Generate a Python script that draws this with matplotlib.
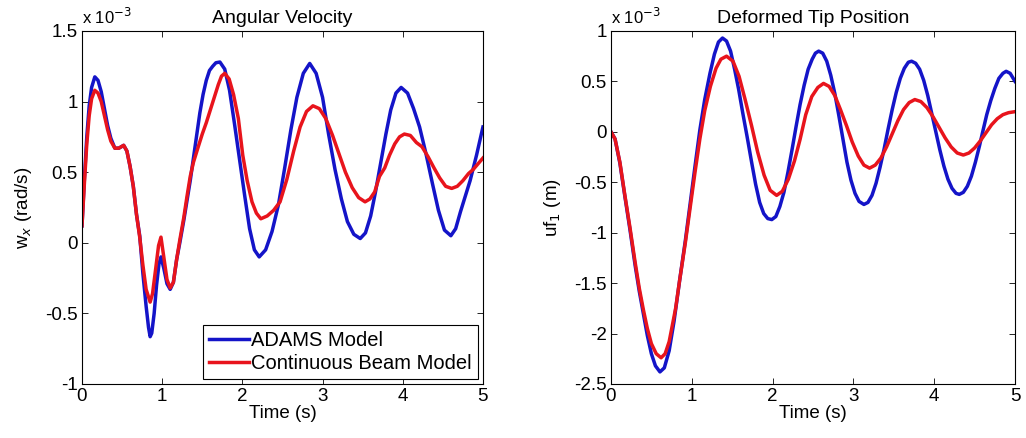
import matplotlib
matplotlib.use("Agg")
import matplotlib.pyplot as plt

plt.rcParams['font.family'] = ['Liberation Sans', 'DejaVu Sans']

# angular velocity, units of 1e-3 rad/s
t_w_adams = [0, 0.03, 0.06, 0.09, 0.12, 0.16, 0.2, 0.24, 0.28, 0.32, 0.36, 0.41, 0.46, 0.52, 0.56,
             0.6, 0.64, 0.68, 0.72, 0.76, 0.8, 0.83, 0.85, 0.87, 0.9, 0.93, 0.96, 0.985, 1.02, 1.06,
             1.1, 1.14, 1.18, 1.22, 1.27, 1.31, 1.35, 1.39, 1.43, 1.47, 1.51, 1.55, 1.59, 1.63, 1.67,
             1.72, 1.78, 1.84, 1.90, 1.965, 2.03, 2.09, 2.15, 2.21, 2.29, 2.37, 2.45, 2.525, 2.605,
             2.68, 2.76, 2.84, 2.92, 3.0, 3.075, 3.155, 3.235, 3.31, 3.39, 3.47, 3.535, 3.6, 3.66,
             3.725, 3.79, 3.85, 3.915, 3.98, 4.06, 4.135, 4.21, 4.29, 4.37, 4.445, 4.52, 4.6, 4.66,
             4.72, 4.78, 4.84, 4.88, 4.92, 4.96, 5.0]
w_adams = [0.12, 0.45, 0.75, 0.97, 1.1, 1.175, 1.15, 1.07, 0.95, 0.83, 0.74, 0.67, 0.67, 0.69, 0.65,
           0.54, 0.40, 0.2, 0.05, -0.22, -0.45, -0.6, -0.665, -0.64, -0.5, -0.3, -0.15, -0.1, -0.18, -0.29,
           -0.33, -0.28, -0.12, 0.0, 0.16, 0.3, 0.44, 0.6, 0.76, 0.92, 1.05, 1.15, 1.22, 1.25, 1.275,
           1.28, 1.23, 1.08, 0.85, 0.59, 0.33, 0.10, -0.05, -0.1, -0.05, 0.08, 0.27, 0.52, 0.8,
           1.03, 1.2, 1.27, 1.2, 1.03, 0.77, 0.52, 0.31, 0.15, 0.06, 0.03, 0.07, 0.19, 0.36,
           0.565, 0.77, 0.94, 1.06, 1.10, 1.06, 0.95, 0.82, 0.63, 0.42, 0.23, 0.09, 0.05, 0.1,
           0.22, 0.33, 0.44, 0.53, 0.62, 0.72, 0.82]

t_w_beam = [0, 0.03, 0.06, 0.09, 0.12, 0.16, 0.2, 0.24, 0.28, 0.32, 0.36, 0.41, 0.46, 0.52, 0.56,
            0.6, 0.64, 0.68, 0.72, 0.76, 0.8, 0.85, 0.88, 0.92, 0.955, 0.985, 1.02, 1.06, 1.1, 1.14,
            1.18, 1.22, 1.27, 1.31, 1.35, 1.39, 1.45, 1.5, 1.55, 1.6, 1.65, 1.70, 1.74, 1.78, 1.835,
            1.89, 1.95, 2.005, 2.06, 2.12, 2.175, 2.23, 2.31, 2.39, 2.47, 2.555, 2.64, 2.72, 2.8,
            2.88, 2.96, 3.04, 3.125, 3.205, 3.285, 3.37, 3.45, 3.53, 3.59, 3.65, 3.71, 3.775, 3.835,
            3.9, 3.96, 4.02, 4.095, 4.17, 4.24, 4.315, 4.39, 4.46, 4.535, 4.61, 4.68, 4.75, 4.82,
            4.88, 4.94, 5.0]
w_beam = [0.12, 0.42, 0.7, 0.9, 1.02, 1.08, 1.06, 1.0, 0.9, 0.8, 0.72, 0.67, 0.67, 0.69, 0.65,
          0.54, 0.40, 0.2, 0.04, -0.16, -0.33, -0.42, -0.36, -0.18, -0.02, 0.04, -0.1, -0.26, -0.32, -0.28,
          -0.12, 0.02, 0.18, 0.33, 0.47, 0.57, 0.68, 0.77, 0.85, 0.94, 1.03, 1.12, 1.18, 1.2, 1.16,
          1.05, 0.88, 0.62, 0.44, 0.29, 0.21, 0.17, 0.19, 0.23, 0.29, 0.45, 0.65, 0.82, 0.93,
          0.97, 0.95, 0.88, 0.76, 0.63, 0.5, 0.39, 0.32, 0.29, 0.31, 0.36, 0.47, 0.53, 0.62,
          0.70, 0.75, 0.77, 0.76, 0.71, 0.68, 0.61, 0.53, 0.46, 0.40, 0.385, 0.40, 0.44, 0.49,
          0.52, 0.56, 0.6]

# deformed tip position, units of 1e-3 m
t_u_adams = [0, 0.05, 0.11, 0.17, 0.235, 0.3, 0.35, 0.4, 0.45, 0.5, 0.55, 0.606, 0.66, 0.72, 0.78,
             0.85, 0.92, 0.98, 1.04, 1.1, 1.16, 1.225, 1.28, 1.33, 1.38, 1.43, 1.48, 1.53, 1.58,
             1.63, 1.685, 1.74, 1.79, 1.84, 1.89, 1.94, 1.99, 2.04, 2.09, 2.14, 2.19, 2.24, 2.29,
             2.34, 2.39, 2.44, 2.49, 2.53, 2.57, 2.62, 2.67, 2.72, 2.77, 2.82, 2.87, 2.92, 2.97,
             3.02, 3.07, 3.13, 3.18, 3.23, 3.28, 3.33, 3.38, 3.43, 3.48, 3.53, 3.58, 3.63, 3.68,
             3.72, 3.77, 3.82, 3.87, 3.92, 3.97, 4.02, 4.07, 4.12, 4.17, 4.22, 4.27, 4.31, 4.36,
             4.41, 4.46, 4.51, 4.56, 4.6, 4.65, 4.7, 4.75, 4.8, 4.85, 4.89, 4.94, 5.0]
u_adams = [0, -0.07, -0.31, -0.63, -0.97, -1.33, -1.58, -1.8, -2.02, -2.2, -2.32, -2.38, -2.34, -2.17, -1.88,
           -1.47, -1.08, -0.71, -0.34, 0.02, 0.32, 0.58, 0.77, 0.89, 0.93, 0.9, 0.8, 0.62, 0.42,
           0.19, -0.05, -0.3, -0.52, -0.7, -0.81, -0.86, -0.87, -0.84, -0.74, -0.6, -0.4, -0.18, 0.05,
           0.27, 0.46, 0.62, 0.72, 0.78, 0.80, 0.78, 0.7, 0.56, 0.38, 0.16, -0.07, -0.3, -0.48,
           -0.61, -0.69, -0.72, -0.7, -0.63, -0.51, -0.35, -0.17, 0.03, 0.22, 0.39, 0.53, 0.63, 0.69,
           0.70, 0.68, 0.62, 0.51, 0.36, 0.18, 0.0, -0.18, -0.34, -0.47, -0.56, -0.61, -0.62, -0.6,
           -0.54, -0.44, -0.3, -0.14, 0.0, 0.17, 0.31, 0.43, 0.53, 0.58, 0.60, 0.58, 0.5]

t_u_beam = [0, 0.05, 0.11, 0.17, 0.235, 0.3, 0.35, 0.4, 0.45, 0.5, 0.56, 0.62, 0.67, 0.72, 0.8,
            0.85, 0.92, 0.98, 1.04, 1.1, 1.16, 1.23, 1.3, 1.36, 1.43, 1.51, 1.585, 1.66, 1.74,
            1.815, 1.895, 1.97, 2.05, 2.12, 2.195, 2.27, 2.34, 2.41, 2.485, 2.56, 2.63, 2.70, 2.77,
            2.84, 2.915, 2.985, 3.06, 3.13, 3.2, 3.27, 3.34, 3.41, 3.48, 3.55, 3.62, 3.69, 3.76,
            3.835, 3.91, 3.985, 4.06, 4.135, 4.21, 4.285, 4.36, 4.43, 4.5, 4.57, 4.64, 4.71, 4.78,
            4.85, 4.92, 5.0]
u_beam = [0, -0.07, -0.3, -0.62, -0.95, -1.3, -1.55, -1.76, -1.95, -2.1, -2.2, -2.24, -2.2, -2.08, -1.75,
          -1.47, -1.1, -0.75, -0.4, -0.07, 0.21, 0.45, 0.63, 0.72, 0.75, 0.70, 0.55, 0.32, 0.06,
          -0.20, -0.43, -0.58, -0.63, -0.59, -0.47, -0.29, -0.075, 0.17, 0.35, 0.44, 0.48, 0.45, 0.36,
          0.22, 0.06, -0.1, -0.24, -0.33, -0.36, -0.33, -0.26, -0.15, -0.02, 0.11, 0.22, 0.29, 0.32,
          0.30, 0.24, 0.15, 0.045, -0.06, -0.15, -0.21, -0.23, -0.21, -0.16, -0.09, -0.01, 0.07, 0.13,
          0.17, 0.19, 0.2]

blue = '#1414c8'
red = '#e8141c'


def style(ax, ylim, yticks):
    ax.set_xlim(0, 5)
    ax.set_ylim(*ylim)
    ax.set_xticks(range(6))
    ax.set_yticks(yticks)
    ax.set_yticklabels(['{:g}'.format(v) for v in yticks])
    ax.tick_params(direction='in', top=True, right=True, labelsize=13.5, length=4, width=0.6, pad=3)
    for s in ax.spines.values():
        s.set_linewidth(0.8)
    ax.set_xlabel('Time (s)', fontsize=13.5, labelpad=0)
    ax.text(0.0, 1.01, r'x 10$^{-3}$', transform=ax.transAxes, fontsize=12, va='bottom', ha='left')


fig = plt.figure(figsize=(10.26, 4.38), dpi=100)
ax1 = fig.add_axes([0.0799, 0.1233, 0.3908, 0.806])
ax2 = fig.add_axes([0.5955, 0.1233, 0.3938, 0.806])

ax1.plot(t_w_adams, w_adams, color=blue, lw=2.5, label='ADAMS Model')
ax1.plot(t_w_beam, w_beam, color=red, lw=2.5, label='Continuous Beam Model')
style(ax1, (-1, 1.5), [-1, -0.5, 0, 0.5, 1, 1.5])
ax1.set_title('Angular Velocity', fontsize=14, pad=6)
ax1.set_ylabel(r'w$_x$ (rad/s)', fontsize=13.5, labelpad=8)
leg = ax1.legend(loc='lower right', fontsize=14.5, handlelength=2.0, handletextpad=0.1,
                 borderaxespad=0.25, fancybox=False, framealpha=1, borderpad=0.3, labelspacing=0.2)
leg.get_frame().set_edgecolor('black')
leg.get_frame().set_linewidth(0.8)

ax2.plot(t_u_adams, u_adams, color=blue, lw=2.5)
ax2.plot(t_u_beam, u_beam, color=red, lw=2.5)
style(ax2, (-2.5, 1), [-2.5, -2, -1.5, -1, -0.5, 0, 0.5, 1])
ax2.set_title('Deformed Tip Position', fontsize=14, pad=6)
ax2.set_ylabel(r'uf$_1$ (m)', fontsize=13.5, labelpad=8)

fig.savefig('out.png', dpi=100)
